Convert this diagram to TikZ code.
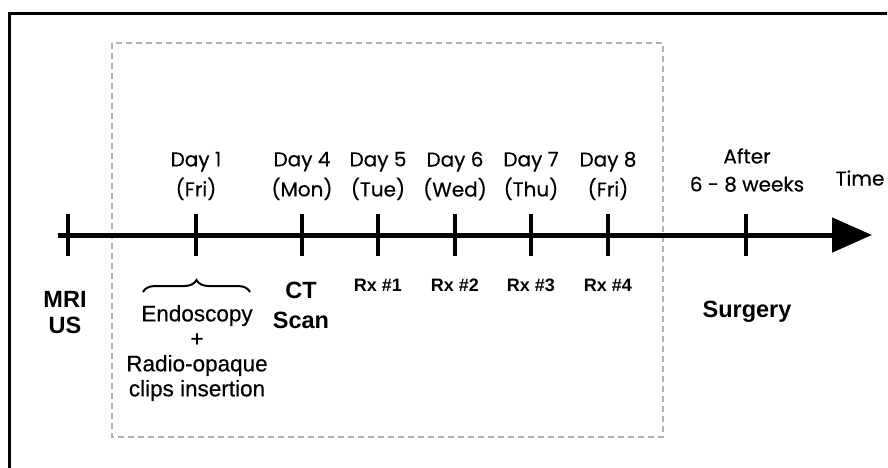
\documentclass[tikz,border=0pt]{standalone}
\usepackage{fontspec}
\setmainfont{Liberation Sans}
\newfontfamily\gothic[FakeBold=0.4]{Poppins}
\newfontfamily\endofont[FakeBold=0.5]{Liberation Sans}
\usetikzlibrary{arrows.meta,decorations.pathreplacing}
\begin{document}
\begin{tikzpicture}[x=1pt,y=-1pt,
  daylbl/.style={font=\gothic\fontsize{20}{30}\selectfont, align=center, inner sep=0pt},
  boldlbl/.style={font=\bfseries\fontsize{23.5}{28}\selectfont, align=center, inner sep=0pt},
  rxlbl/.style={font=\bfseries\fontsize{18}{20}\selectfont, inner sep=0pt},
  tickline/.style={line width=3.5pt},
  ]
\useasboundingbox (0,0) rectangle (888,468);
% frame (top and left only)
\draw[line width=3pt] (9.5,468) -- (9.5,14) -- (887,14);
% dashed box
\draw[gray!60, line width=1.2pt, dash pattern=on 6pt off 4pt] (112,43) rectangle (663,437);
% axis
\coordinate (start) at (58,235);
\coordinate (tip) at (872,235);
\draw[line width=5pt, -{Triangle[length=40pt 0 0, width=34pt 0 0]}] (start) -- (tip);
% ticks
\foreach \n/\x in {t0/68, t1/196, t4/302, t5/378, t6/455, t7/531, t8/608, ts/746}{
  \coordinate (\n) at (\x,235);
  \draw[tickline] (\x,214) -- (\x,256);
}
% top labels
\node[daylbl] (d1) at (196,176) {Day 1\\(Fri)};
\node[daylbl] (d4) at (302,176) {Day 4\\(Mon)};
\node[daylbl] (d5) at (378,176) {Day 5\\(Tue)};
\node[daylbl] (d6) at (455,176) {Day 6\\(Wed)};
\node[daylbl] (d7) at (531,176) {Day 7\\(Thu)};
\node[daylbl] (d8) at (608,176) {Day 8\\(Fri)};
\node[daylbl, font=\gothic\fontsize{20}{28}\selectfont] (after) at (747,170) {After\\6 - 8 weeks};
\node[daylbl] (time) at (860,178) {Time};
% bottom labels
\node[boldlbl, font=\bfseries\fontsize{23.5}{26}\selectfont] (mri) at (65,313) {MRI\\US};
\node[boldlbl, font=\bfseries\fontsize{23.5}{30}\selectfont] (ct) at (301,305) {CT\\Scan};
\node[boldlbl] (surg) at (747,312) {Surgery};
\node[rxlbl] (rx1) at (378,285) {Rx \#1};
\node[rxlbl] (rx2) at (455,285) {Rx \#2};
\node[rxlbl] (rx3) at (531,285) {Rx \#3};
\node[rxlbl] (rx4) at (608,285) {Rx \#4};
\node[align=center, inner sep=0pt, font=\endofont\fontsize{22.5}{25}\selectfont] (endo) at (197,353)
  {Endoscopy\\+\\Radio-opaque\\clips insertion};
% brace
\coordinate (bl) at (143,292);
\coordinate (br) at (250,292);
\draw[line width=2pt, decorate, decoration={brace, amplitude=12pt}] (bl) -- (br);
\end{tikzpicture}
\end{document}
